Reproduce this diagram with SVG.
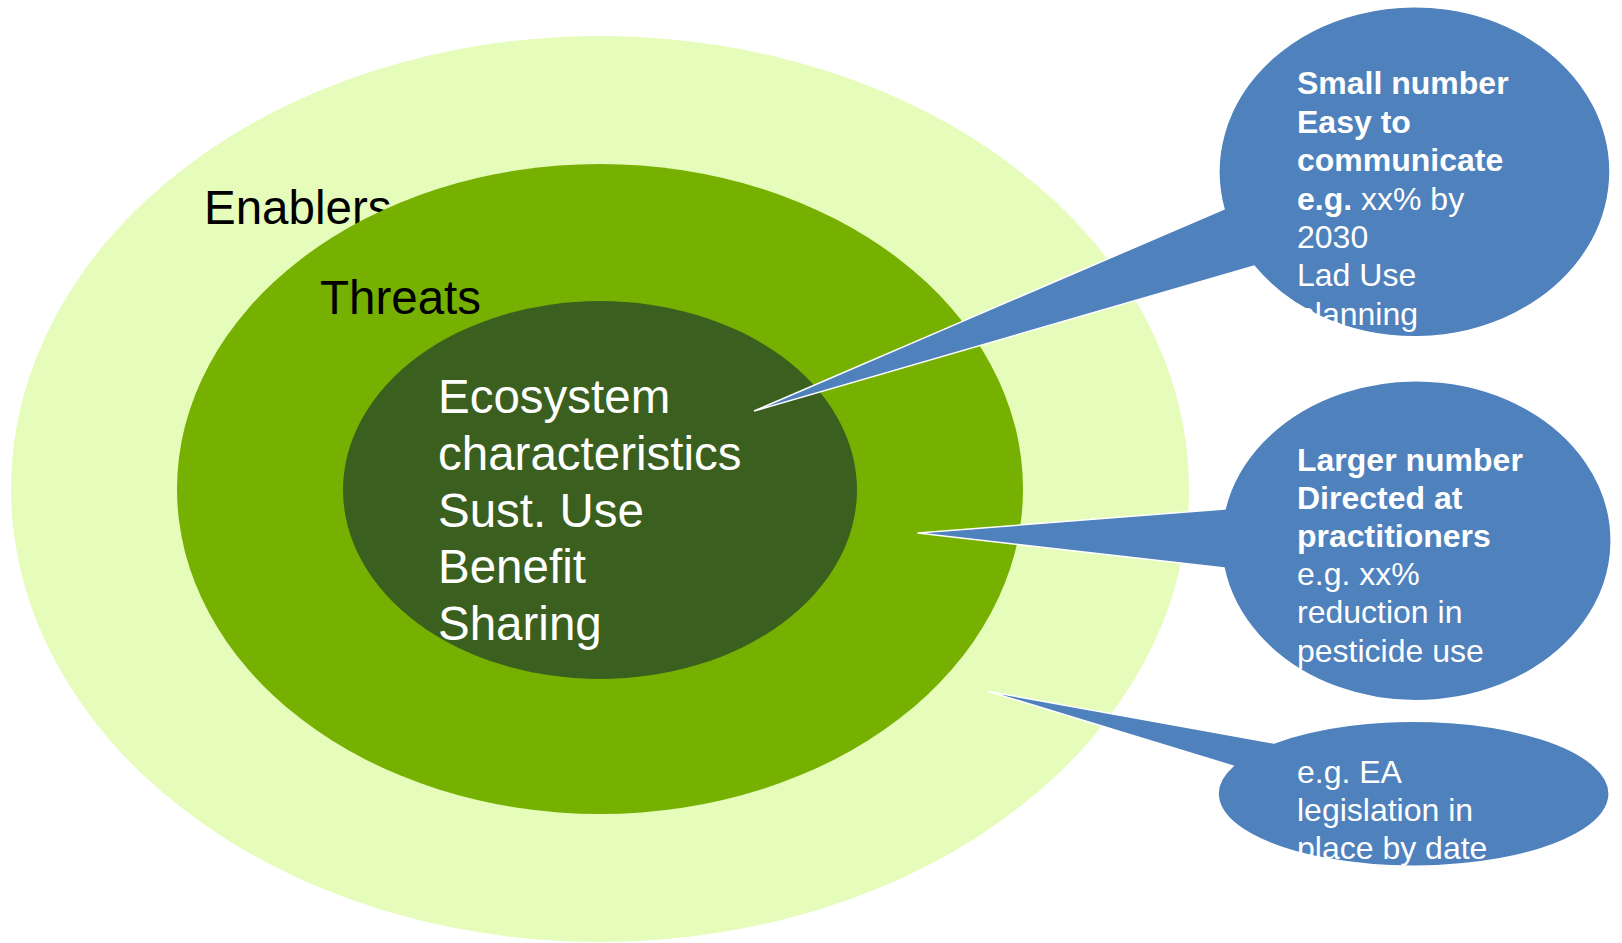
<svg xmlns="http://www.w3.org/2000/svg" width="1622" height="943" viewBox="0 0 1622 943">
  <style>
    .lbl { font-family: "Liberation Sans", Arial, sans-serif; font-size: 47.5px; }
    .co { fill: #4F81BD; stroke: #FFFFFF; stroke-width: 1.5; stroke-linejoin: miter; }
    .ct { font-family: "Liberation Sans", Arial, sans-serif; font-size: 32px; fill: #FFFFFF; }
    .b { font-weight: bold; }
  </style>
  <rect width="1622" height="943" fill="#FFFFFF"/>
  <g id="enablers">
    <ellipse cx="600" cy="489" rx="589" ry="453" fill="#E6FCBA"/>
    <text class="lbl" x="204" y="224" fill="#000000">Enablers</text>
  </g>
  <g id="threats">
    <ellipse cx="600" cy="489" rx="423" ry="325" fill="#76B000"/>
    <text class="lbl" x="320" y="314" fill="#000000">Threats</text>
  </g>
  <g id="core">
    <ellipse cx="600" cy="490" rx="257" ry="189" fill="#3A5F1E"/>
    <text class="lbl" fill="#FFFFFF">
      <tspan x="438" y="413">Ecosystem</tspan>
      <tspan x="438" y="469.8">characteristics</tspan>
      <tspan x="438" y="526.6">Sust. Use</tspan>
      <tspan x="438" y="583.4">Benefit</tspan>
      <tspan x="438" y="640.2">Sharing</tspan>
    </text>
  </g>
  <g id="connectors"></g>
  <g id="callout-headline">
    <path class="co" d="M 1224 209 L 754 411 L 1254 266 A 195.5 165 0 1 0 1224 209 Z"/>
    <text class="ct">
      <tspan class="b" x="1297" y="94.3">Small number</tspan>
      <tspan class="b" x="1297" y="132.7">Easy to</tspan>
      <tspan class="b" x="1297" y="171.1">communicate</tspan>
      <tspan x="1297" y="209.5"><tspan class="b">e.g.</tspan> xx% by</tspan>
      <tspan x="1297" y="247.9">2030</tspan>
      <tspan x="1297" y="286.3">Lad Use</tspan>
      <tspan x="1297" y="324.7">planning</tspan>
    </text>
  </g>
  <g id="callout-practitioners">
    <path class="co" d="M 1225 509 L 917.5 533 L 1224 568 A 195 160 0 1 0 1225 509 Z"/>
    <text class="ct">
      <tspan class="b" x="1297" y="470.5">Larger number</tspan>
      <tspan class="b" x="1297" y="508.7">Directed at</tspan>
      <tspan class="b" x="1297" y="546.9">practitioners</tspan>
      <tspan x="1297" y="585.1">e.g. xx%</tspan>
      <tspan x="1297" y="623.3">reduction in</tspan>
      <tspan x="1297" y="661.5">pesticide use</tspan>
    </text>
  </g>
  <g id="callout-enablers">
    <path class="co" d="M 1274 743 L 988.5 691.5 L 1233 766 A 195.5 72.5 0 1 0 1274 743 Z"/>
    <text class="ct">
      <tspan x="1297" y="782.5">e.g. EA</tspan>
      <tspan x="1297" y="820.5">legislation in</tspan>
      <tspan x="1297" y="858.5">place by date</tspan>
    </text>
  </g>
</svg>
